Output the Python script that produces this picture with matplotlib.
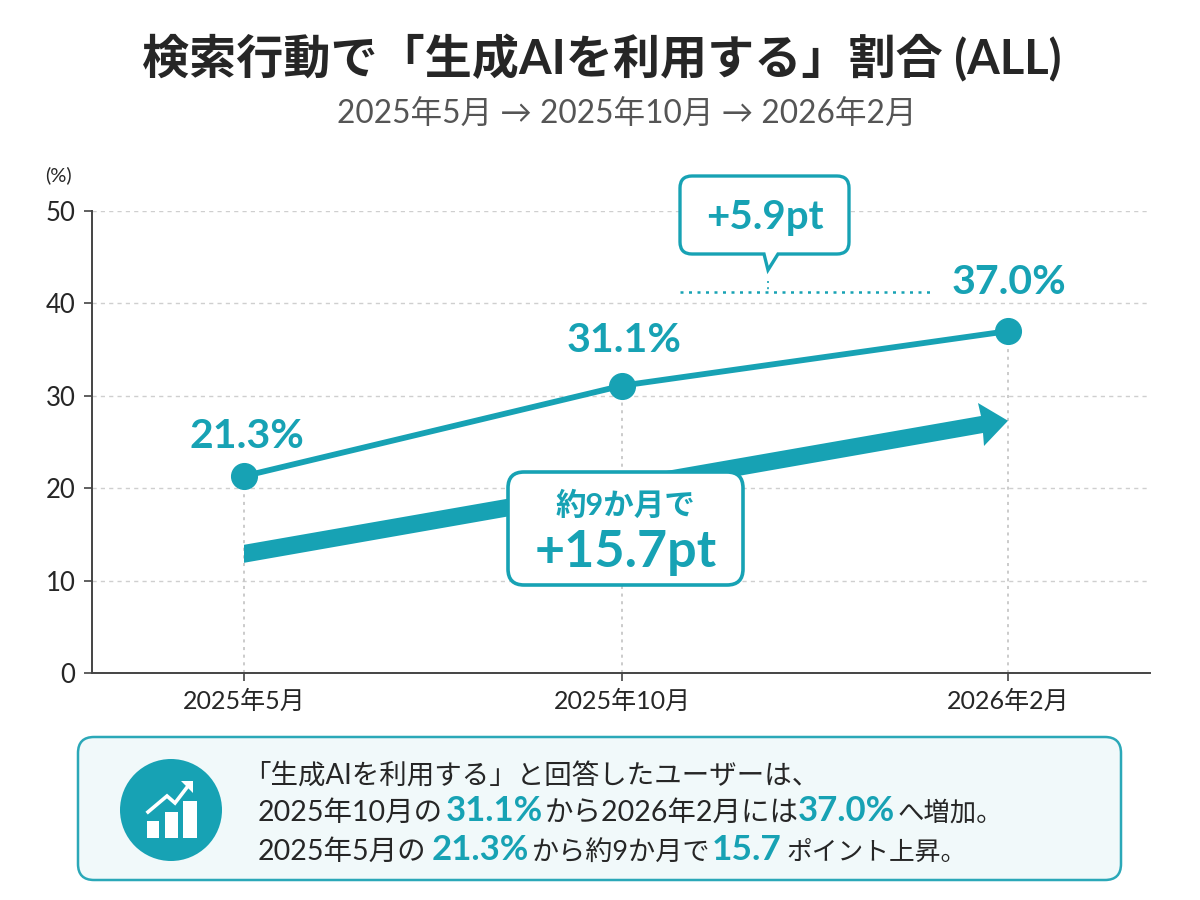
import matplotlib
matplotlib.use("Agg")
import matplotlib.pyplot as plt
from matplotlib.patches import FancyBboxPatch, Circle, Polygon, Rectangle, PathPatch
from matplotlib.path import Path

plt.rcParams['font.family'] = ['Lato', 'Noto Sans CJK JP', 'DejaVu Sans']

TEAL = '#17A2B4'
DARK = '#262626'
GREY = '#555555'

title = '検索行動で「生成AIを利用する」割合 (ALL)'
subtitle = '2025年5月 → 2025年10月 → 2026年2月'
categories = ['2025年5月', '2025年10月', '2026年2月']
values = [21.3, 31.1, 37.0]
value_labels = ['21.3%', '31.1%', '37.0%']
yticks = [0, 10, 20, 30, 40, 50]
trend_start = 12.9
trend_end = 27.3
diff_recent = '+5.9pt'
diff_total_head = '約9か月で'
diff_total = '+15.7pt'

fig = plt.figure(figsize=(12, 9), dpi=100, facecolor='white')
W, H = 1200, 900
ax = fig.add_axes([92 / W, 1 - 673 / H, (1150 - 92) / W, (673 - 211) / H])
x_pos = [0, 0.99, 2]
ax.set_xlim(-152 / 382, 2 + 142 / 382)
ax.set_ylim(0, 50)
for s in ['top', 'right']:
    ax.spines[s].set_visible(False)
for s in ['left', 'bottom']:
    ax.spines[s].set_color('#444444')
    ax.spines[s].set_linewidth(1.4)
ax.set_yticks(yticks)
ax.set_xticks(x_pos)
ax.set_xticklabels(categories, fontsize=18, color=DARK)
ax.tick_params(axis='y', length=6, width=1.2, color='#444444', labelsize=18.5, labelcolor=DARK, pad=6)
ax.tick_params(axis='x', length=6, width=1.2, color='#444444', pad=6)
ax.yaxis.grid(True, color='#CFCFCF', linestyle=(0, (3, 3)), linewidth=1)
ax.set_axisbelow(True)
for x, v in zip(x_pos, values):
    ax.plot([x, x], [0, v], color='#BDBDBD', linestyle=(0, (2, 3)), linewidth=1.1, zorder=1)
ax.plot(x_pos, values, color=TEAL, linewidth=4.2, marker='o', markersize=18.5,
        markerfacecolor=TEAL, markeredgecolor=TEAL, zorder=3)

ov = fig.add_axes([0, 0, 1, 1], facecolor='none')
ov.set_xlim(0, W)
ov.set_ylim(H, 0)
ov.axis('off')


def to_px(x, y):
    dx, dy = ax.transData.transform((x, y))
    return dx, H - dy


ov.text(602, 58, title, fontsize=33.9, fontweight='bold', color=DARK, ha='center', va='center')
ov.text(627, 115, subtitle, fontsize=22.8, color=GREY, ha='center', va='center')
ov.text(58, 175, '(%)', fontsize=14.5, color=DARK, ha='center', va='center')

# value labels
for (lx, ly), t in zip([(247, 436), (624, 340), (1009, 283)], value_labels):
    ov.text(lx, ly, t, fontsize=29.5, fontweight='bold', color=TEAL, ha='center', va='center')

# trend arrow
x0, y0 = to_px(x_pos[0], trend_start)
x1, y1 = to_px(x_pos[2], trend_end)
ov.add_patch(Polygon([(x0, y0 - 9), (981, 416), (978, 403), (x1, y1), (984, 446), (983, 433), (x0, y0 + 9)],
                     closed=True, facecolor=TEAL, edgecolor='none', zorder=2))

# total callout
ov.add_patch(FancyBboxPatch((508 + 16, 472 + 16), 235 - 32, 113 - 32, boxstyle='round,pad=16,rounding_size=16',
                            facecolor='white', edgecolor=TEAL, linewidth=2.6, zorder=3))
ov.text(625, 505, diff_total_head, fontsize=22, fontweight='bold', color=TEAL, ha='center', va='center', zorder=4)
ov.text(626, 553, diff_total, fontsize=37.5, fontweight='bold', color=TEAL, ha='center', va='center', zorder=4)

# recent callout with tail
l, r, t, b, rad = 680, 849, 176, 254, 12
MOVE, LINE, CURVE = Path.MOVETO, Path.LINETO, Path.CURVE3
verts = [(l + rad, t), (r - rad, t), (r, t), (r, t + rad), (r, b - rad), (r, b), (r - rad, b),
         (778, b), (768, 270), (764, b), (l + rad, b), (l, b), (l, b - rad), (l, t + rad), (l, t), (l + rad, t), (l + rad, t)]
codes = [MOVE, LINE, CURVE, CURVE, LINE, CURVE, CURVE, LINE, LINE, LINE, LINE, CURVE, CURVE, LINE, CURVE, CURVE, Path.CLOSEPOLY]
ov.add_patch(PathPatch(Path(verts, codes), facecolor='white', edgecolor=TEAL, linewidth=2.4, zorder=3))
ov.text(765, 218, diff_recent, fontsize=29, fontweight='bold', color=TEAL, ha='center', va='center', zorder=4)
ov.plot([680, 933], [292, 292], color=TEAL, linestyle=(0, (1.2, 2.2)), linewidth=1.8, zorder=2)
ov.plot([768, 768], [281, 292], color=TEAL, linestyle=(0, (1.2, 2.5)), linewidth=1.2, zorder=2)

# summary panel
ov.add_patch(FancyBboxPatch((78 + 16, 737 + 16), 1043 - 32, 143 - 32, boxstyle='round,pad=16,rounding_size=16',
                            facecolor='#F1F9FA', edgecolor='#2BA8B8', linewidth=1.8, zorder=1))
ov.add_patch(Circle((171, 810), 51, facecolor=TEAL, edgecolor='none', zorder=2))
for bx, bt, bw in [(147, 821, 12), (165, 812, 13), (183, 801, 14)]:
    ov.add_patch(Rectangle((bx, bt), bw, 838 - bt, facecolor='white', edgecolor='none', zorder=3))
ov.plot([148, 167, 175, 188], [812, 796, 803, 786], color='white', linewidth=2.6, zorder=3, solid_joinstyle='miter')
ov.add_patch(Polygon([(181, 781), (193, 781), (193, 793)], closed=True, facecolor='white', edgecolor='none', zorder=3))

segments = [
    (243, 777, '「生成AIを利用する」と回答したユーザーは、', 19.8, DARK, 'normal'),
    (258, 813, '2025年10月の', 20.5, DARK, 'normal'),
    (446, 811, '31.1%', 25, TEAL, 'bold'),
    (545, 813, 'から2026年2月には', 20.5, DARK, 'normal'),
    (798, 811, '37.0%', 25, TEAL, 'bold'),
    (898, 813, 'へ増加。', 19, DARK, 'normal'),
    (258, 852, '2025年5月の', 20.5, DARK, 'normal'),
    (432, 850, '21.3%', 25, TEAL, 'bold'),
    (532, 852, 'から約9か月で', 19.5, DARK, 'normal'),
    (712, 850, '15.7', 25.5, TEAL, 'bold'),
    (786, 852, 'ポイント上昇。', 18.5, DARK, 'normal'),
]
for sx, sy, txt, fs, col, wt in segments:
    ov.text(sx, sy, txt, fontsize=fs, color=col, fontweight=wt, ha='left', va='center', zorder=4)

fig.savefig('out.png', dpi=100, facecolor='white')
